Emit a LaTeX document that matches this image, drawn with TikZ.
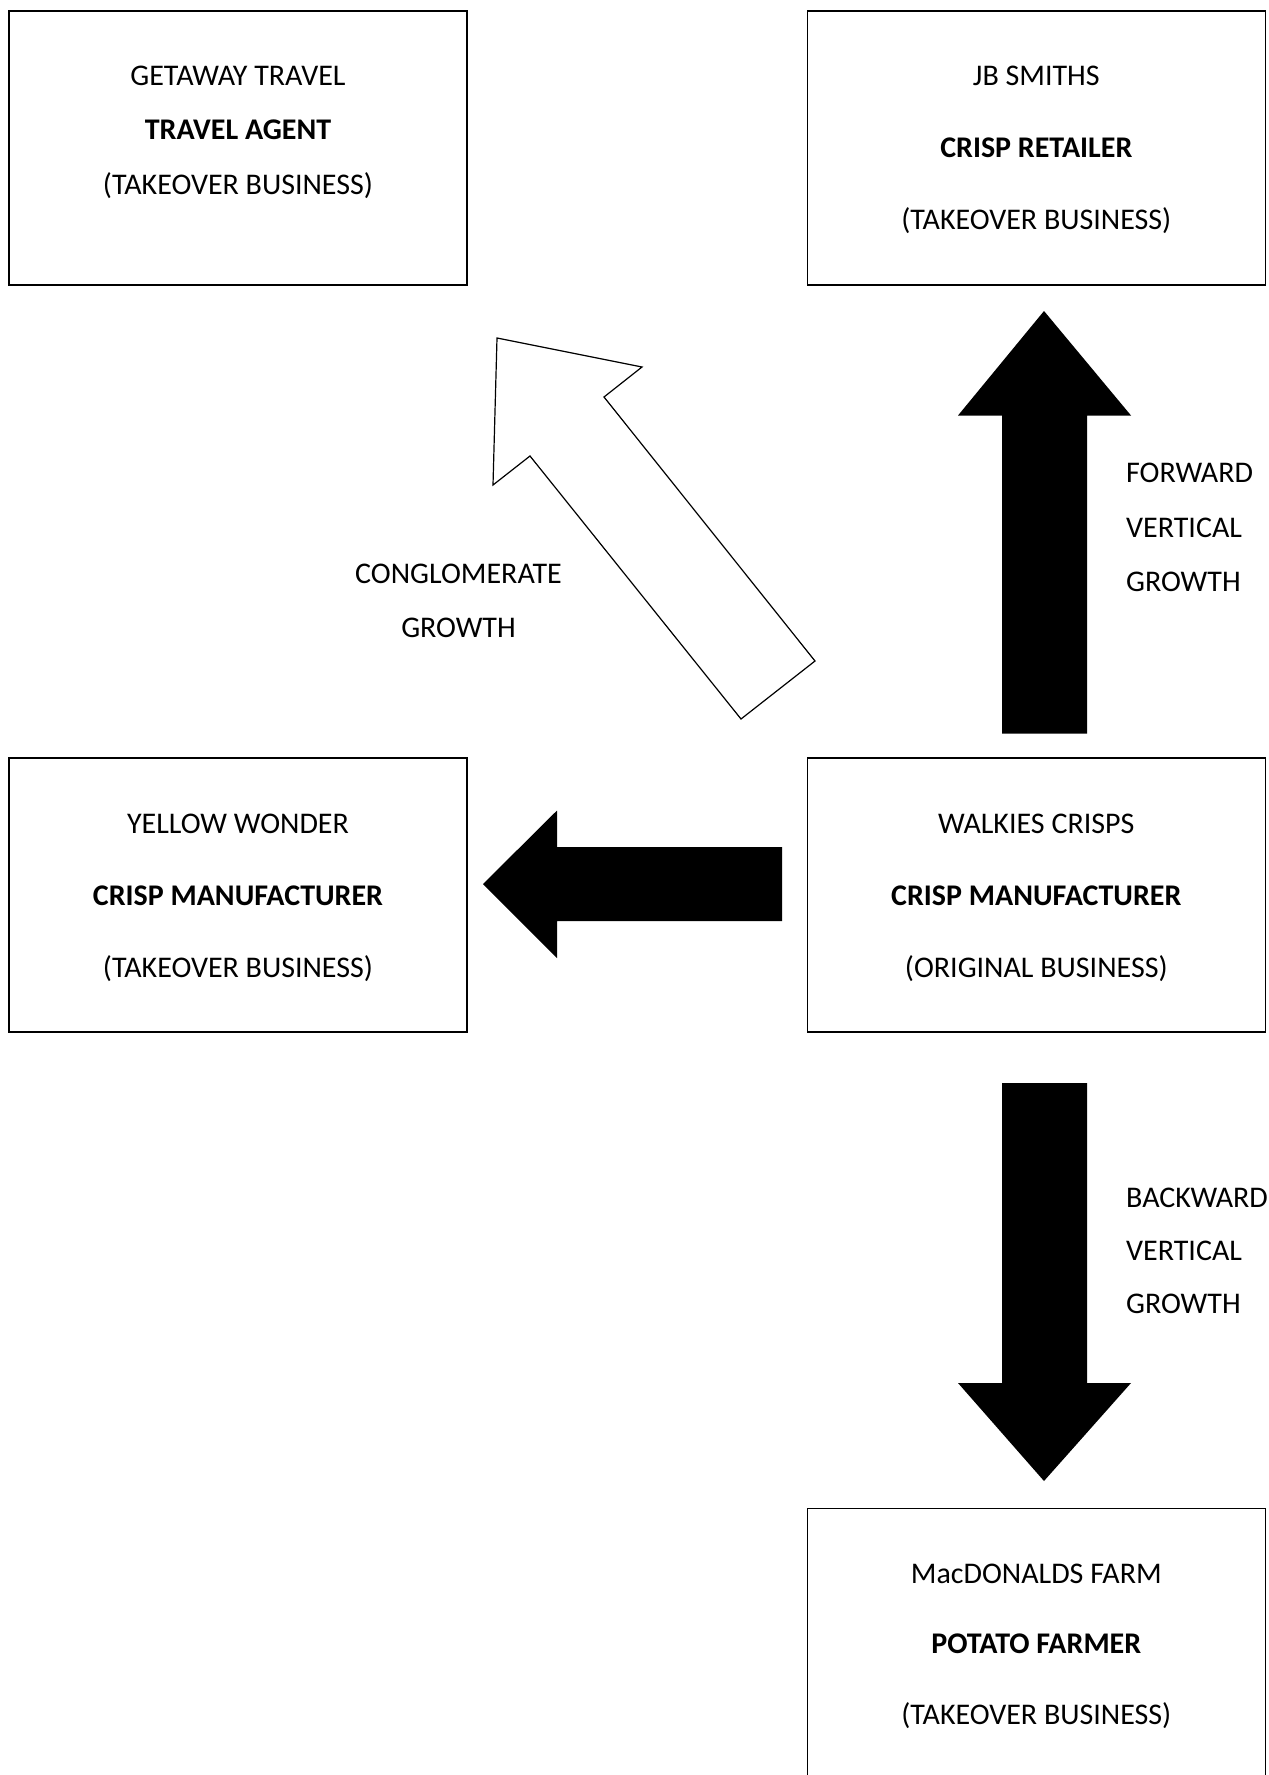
\documentclass[tikz,border=0pt]{standalone}
\usepackage{fontspec}
\setmainfont{Carlito}
\begin{document}
\begin{tikzpicture}[x=1pt,y=-1pt,
  bizbox/.style={draw=black, line width=1.3pt, minimum width=458pt, minimum height=274pt, inner sep=0pt},
  txt/.style={font=\fontsize{30}{36}\selectfont, inner sep=0pt, anchor=base},
  btxt/.style={txt, font=\fontsize{30}{36}\selectfont\bfseries},
  ltxt/.style={txt, anchor=base west},
  solidarrow/.style={fill=black, draw=none},
  hollowarrow/.style={draw=black, fill=white, line width=1.2pt, line join=miter}]
\useasboundingbox (0,0) rectangle (1269,1775);
\clip (0,0) rectangle (1269,1775);
\fill[white] (0,0) rectangle (1269,1775);

% boxes
\node[bizbox] (getaway) at (238,148) {};
\node[bizbox] (jbsmiths) at (1036.3,148) {};
\node[bizbox] (yellow) at (238,895) {};
\node[bizbox] (walkies) at (1036.3,895) {};
\node[bizbox, anchor=north, minimum height=320pt] (macd) at (1036.3,1508) {};

% box texts
\node[txt]  (g1) at (238,85.5) {GETAWAY TRAVEL};
\node[btxt] (g2) at (238,139.5) {TRAVEL AGENT};
\node[txt]  (g3) at (238,194) {(TAKEOVER BUSINESS)};

\node[txt]  (j1) at (1036.3,85.5) {JB SMITHS};
\node[btxt] (j2) at (1036.3,157.5) {CRISP RETAILER};
\node[txt]  (j3) at (1036.3,229) {(TAKEOVER BUSINESS)};

\node[txt]  (y1) at (238,833.5) {YELLOW WONDER};
\node[btxt] (y2) at (238,905) {CRISP MANUFACTURER};
\node[txt]  (y3) at (238,977.5) {(TAKEOVER BUSINESS)};

\node[txt]  (w1) at (1036.3,833.5) {WALKIES CRISPS};
\node[btxt] (w2) at (1036.3,905) {CRISP MANUFACTURER};
\node[txt]  (w3) at (1036.3,977.5) {(ORIGINAL BUSINESS)};

\node[txt]  (m1) at (1036.3,1583) {MacDONALDS FARM};
\node[btxt] (m2) at (1036.3,1653.5) {POTATO FARMER};
\node[txt]  (m3) at (1036.3,1724.5) {(TAKEOVER BUSINESS)};

% arrow labels
\node[ltxt] (f1) at (1126,482.5) {FORWARD};
\node[ltxt] (f2) at (1126,537) {VERTICAL};
\node[ltxt] (f3) at (1126,591.5) {GROWTH};

\node[ltxt] (b1) at (1126,1207.5) {BACKWARD};
\node[ltxt] (b2) at (1126,1260.5) {VERTICAL};
\node[ltxt] (b3) at (1126,1313.5) {GROWTH};

\node[txt] (c1) at (458.5,583.5) {CONGLOMERATE};
\node[txt] (c2) at (458.5,637.5) {GROWTH};

% block arrows
\path[solidarrow] (1002,733.5) -- (1002,415.5) -- (958,415.5) -- (1044,311) -- (1131,415.5) -- (1087,415.5) -- (1087,733.5) -- cycle;
\path[solidarrow] (1002,1083) -- (1087,1083) -- (1087,1383) -- (1131,1383) -- (1044,1481) -- (958,1383) -- (1002,1383) -- cycle;
\path[solidarrow] (782,847) -- (557,847) -- (557,810.5) -- (483,884) -- (557,958) -- (557,921) -- (782,921) -- cycle;
\draw[hollowarrow] (497,338) -- (642,367) -- (604,397) -- (815,661) -- (741,719) -- (530,456) -- (493,485) -- cycle;
\end{tikzpicture}
\end{document}
